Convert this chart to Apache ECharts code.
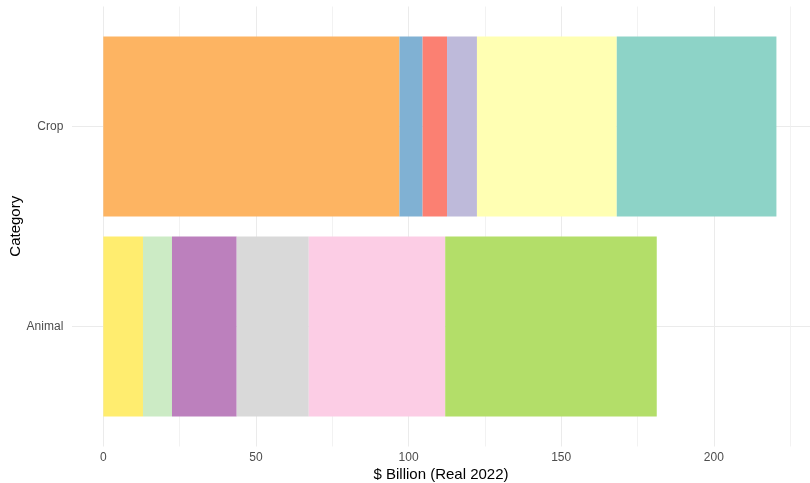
<!DOCTYPE html>
<html>
<head>
<meta charset="utf-8">
<script src="https://cdn.jsdelivr.net/npm/echarts@6/dist/echarts.min.js"></script>
<style>
html,body{margin:0;padding:0;background:#fff;}
#chart{width:810px;height:483px;}
</style>
</head>
<body>
<div id="chart"></div>
<script>
// ---- data ----
var categories = ['Animal', 'Crop'];
var cropSegments = ['Crop A', 'Crop B', 'Crop C', 'Crop D', 'Crop E', 'Crop F'];
var cropValues = [97.0, 7.6, 8.0, 9.8, 45.8, 52.3];
var cropColors = ['#FDB462', '#80B1D3', '#FB8072', '#BEBADA', '#FFFFB3', '#8DD3C7'];
var animalSegments = ['Animal A', 'Animal B', 'Animal C', 'Animal D', 'Animal E', 'Animal F'];
var animalValues = [13.0, 9.5, 21.2, 23.6, 44.7, 69.3];
var animalColors = ['#FFED6F', '#CCEBC5', '#BC80BD', '#D9D9D9', '#FCCDE5', '#B3DE69'];
var xTitle = '$ Billion (Real 2022)';
var yTitle = 'Category';

var FONT = '"Liberation Sans", Arial, sans-serif';
var XMAX = 231.5;

var series = [];
cropSegments.forEach(function (name, i) {
  series.push({
    name: name, type: 'bar', stack: 'total', xAxisIndex: 1, yAxisIndex: 1,
    barCategoryGap: '10%',
    itemStyle: { color: cropColors[i] },
    data: [null, cropValues[i]]
  });
});
animalSegments.forEach(function (name, i) {
  series.push({
    name: name, type: 'bar', stack: 'total', xAxisIndex: 1, yAxisIndex: 1,
    barCategoryGap: '10%',
    itemStyle: { color: animalColors[i] },
    data: [animalValues[i], null]
  });
});

var chart = echarts.init(document.getElementById('chart'), null, { renderer: 'canvas' });
chart.setOption({
  animation: false,
  backgroundColor: '#ffffff',
  textStyle: { fontFamily: FONT },
  grid: [
    { left: 103.3, top: 6.5, width: 708.4, height: 440 },   // vertical gridlines + x labels
    { left: 103.3, top: 26.5, width: 708.4, height: 400 },  // bars
    { left: 70, top: 126.5, width: 741.7, height: 200 }     // horizontal gridlines + titles
  ],
  xAxis: [
    {
      gridIndex: 0, type: 'value', min: 0, max: XMAX, interval: 50,
      axisLine: { show: false }, axisTick: { show: false },
      axisLabel: { color: '#4D4D4D', fontSize: 12, margin: 5, fontFamily: FONT, showMaxLabel: false },
      splitLine: { show: true, lineStyle: { color: '#EBEBEB', width: 1 } },
      minorTick: { show: false, splitNumber: 2 },
      minorSplitLine: { show: true, lineStyle: { color: '#EFEFEF', width: 0.8 } }
    },
    {
      gridIndex: 1, type: 'value', min: 0, max: XMAX, show: false
    },
    {
      gridIndex: 2, type: 'value', min: 0, max: 1,
      axisLine: { show: false }, axisTick: { show: false }, axisLabel: { show: false },
      splitLine: { show: false },
      name: xTitle, nameLocation: 'middle', nameGap: 141,
      nameTextStyle: { color: '#000000', fontSize: 15, fontFamily: FONT }
    }
  ],
  yAxis: [
    {
      gridIndex: 0, type: 'value', min: 0, max: 1, show: false
    },
    {
      gridIndex: 1, type: 'category', data: categories,
      axisLine: { show: false }, axisTick: { show: false },
      axisLabel: { color: '#4D4D4D', fontSize: 12, margin: 40, fontFamily: FONT },
      splitLine: { show: false }
    },
    {
      gridIndex: 2, type: 'value', min: 0, max: 1, interval: 1,
      axisLine: { show: false }, axisTick: { show: false }, axisLabel: { show: false },
      splitLine: { show: true, lineStyle: { color: '#EBEBEB', width: 1 } },
      name: yTitle, nameLocation: 'middle', nameGap: 49, nameRotate: 90,
      nameTextStyle: { color: '#000000', fontSize: 15, fontFamily: FONT }
    }
  ],
  series: series
});
</script>
</body>
</html>
